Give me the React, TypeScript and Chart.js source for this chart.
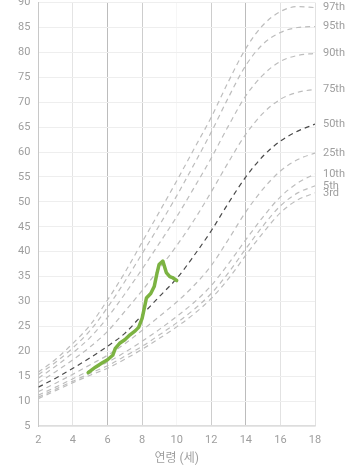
import React, { useEffect, useRef } from "react";
import { Chart, registerables } from "chart.js";

Chart.register(...registerables);

// ---- data ----
const AGES = [2, 3, 4, 5, 6, 7, 8, 9, 10, 11, 12, 13, 14, 15, 16, 17, 18];
const P3 = [10.5, 12.1, 13.7, 15.2, 16.6, 18.4, 20.4, 22.6, 24.9, 27.5, 30.6, 34.6, 39.3, 43.8, 47.8, 50.4, 51.8];
const P5 = [10.8, 12.4, 14.0, 15.6, 17.1, 19.0, 21.0, 23.3, 25.7, 28.4, 31.6, 35.8, 40.6, 45.2, 49.2, 51.8, 53.2];
const P10 = [11.2, 12.8, 14.5, 16.2, 17.8, 19.8, 22.0, 24.4, 27.0, 29.8, 33.2, 37.6, 42.4, 47.0, 51.0, 53.8, 55.6];
const P25 = [11.9, 13.6, 15.4, 17.3, 19.2, 21.5, 24.2, 27.0, 29.9, 33.2, 37.2, 42.5, 48.0, 52.6, 56.2, 58.5, 59.8];
const P50 = [12.8, 14.6, 16.6, 18.7, 21.0, 23.6, 27.3, 31.0, 34.6, 39.2, 44.2, 49.8, 55.0, 59.2, 62.2, 64.2, 65.6];
const P75 = [13.7, 15.9, 18.3, 20.9, 24.0, 28.0, 32.2, 36.6, 41.2, 46.3, 52.0, 58.0, 63.6, 67.8, 70.6, 72.0, 72.6];
const P90 = [14.6, 17.0, 19.7, 22.8, 26.8, 31.5, 36.5, 41.7, 47.0, 52.8, 58.8, 65.3, 71.3, 75.5, 78.2, 79.4, 79.8];
const P95 = [15.3, 17.8, 20.7, 24.2, 28.8, 34.0, 39.6, 45.3, 51.2, 57.5, 64.0, 71.0, 77.4, 81.7, 84.0, 85.0, 85.2];
const P97 = [15.8, 18.4, 21.6, 25.3, 30.3, 35.8, 41.9, 48.0, 54.2, 60.6, 67.0, 74.2, 80.8, 85.5, 88.2, 89.2, 89.0];
const PCT_NAMES = ["3rd", "5th", "10th", "25th", "50th", "75th", "90th", "95th", "97th"];

const CHILD_AGES = [4.88, 5.3, 5.7, 6.0, 6.3, 6.45, 6.7, 7.0, 7.3, 7.6, 7.8, 8.0, 8.15, 8.25, 8.5, 8.7, 8.85, 8.98, 9.2, 9.4, 9.6, 9.75, 10.0];
const CHILD_WEIGHTS = [15.7, 16.8, 17.7, 18.3, 19.2, 20.6, 21.6, 22.3, 23.3, 24.1, 24.8, 26.6, 29.0, 30.7, 31.6, 33.0, 35.5, 37.4, 38.1, 35.8, 35.0, 34.8, 34.2];

const X_MIN = 2;
const X_MAX = 18;
const X_STEP = 2;
const Y_MIN = 5;
const Y_MAX = 90;
const Y_STEP = 5;
const X_TITLE = "연령 (세)";

const FONT = "Roboto, 'Noto Sans CJK KR', sans-serif";

const xGridColor = (v: number) => {
  switch (v) {
    case 2: return "#c8c8c8";
    case 4: return "#e4e4e4";
    case 6: return "#bcbcbc";
    case 8: return "#cdcdcd";
    case 10: return "#f6f6f6";
    case 12: return "#cdcdcd";
    case 14: return "#bcbcbc";
    default: return "#e2e2e2";
  }
};

const pctLabelPlugin = {
  id: "pctLabels",
  afterDatasetsDraw(chart: any) {
    const { ctx, chartArea } = chart;
    ctx.save();
    ctx.font = `11px ${FONT}`;
    ctx.fillStyle = "#9e9e9e";
    ctx.textAlign = "left";
    ctx.textBaseline = "middle";
    chart.data.datasets.forEach((ds: any, i: number) => {
      if (!ds.pctLabel) return;
      const meta = chart.getDatasetMeta(i);
      const pt = meta.data[meta.data.length - 1];
      if (pt) ctx.fillText(ds.pctLabel, chartArea.right + 8, pt.y);
    });
    ctx.restore();
  },
};

export default function App() {
  const ref = useRef<HTMLCanvasElement | null>(null);

  useEffect(() => {
    if (!ref.current) return;
    const series = [P3, P5, P10, P25, P50, P75, P90, P95, P97];
    const pctDatasets = series.map((vals, i) => ({
      label: PCT_NAMES[i],
      pctLabel: PCT_NAMES[i],
      data: AGES.map((a, j) => ({ x: a, y: vals[j] })),
      borderColor: PCT_NAMES[i] === "50th" ? "#4a4a4a" : "#bdbdbd",
      borderWidth: 1.2,
      borderDash: [5, 4],
      pointRadius: 0,
      fill: false,
      cubicInterpolationMode: "monotone" as const,
      order: 2,
    }));
    const child = {
      label: "child",
      data: CHILD_AGES.map((a, j) => ({ x: a, y: CHILD_WEIGHTS[j] })),
      borderColor: "#7cb342",
      borderWidth: 3.5,
      pointRadius: 0,
      fill: false,
      tension: 0,
      borderCapStyle: "round" as const,
      borderJoinStyle: "round" as const,
      order: 0,
    };

    const chart = new Chart(ref.current, {
      type: "line",
      data: { datasets: [child, ...pctDatasets] as any },
      options: {
        animation: false,
        responsive: true,
        maintainAspectRatio: false,
        layout: { padding: { left: 10, right: 35, top: 0, bottom: 0 } },
        plugins: { legend: { display: false }, tooltip: { enabled: false } },
        scales: {
          x: {
            type: "linear",
            min: X_MIN,
            max: X_MAX,
            ticks: { stepSize: X_STEP, color: "#9e9e9e", padding: 7.5, font: { size: 11, family: FONT } },
            grid: {
              drawTicks: false,
              color: (c: any) => xGridColor(c.tick ? c.tick.value : 0),
              lineWidth: 1,
            },
            border: { color: "#dddddd", width: 1.5 },
            title: {
              display: true,
              text: X_TITLE,
              color: "#9e9e9e",
              font: { size: 12, family: FONT },
              padding: { top: 0, bottom: 0 },
            },
            afterFit: (scale: any) => {
              scale.height = 40;
            },
          },
          y: {
            type: "linear",
            min: Y_MIN,
            max: Y_MAX,
            ticks: { stepSize: Y_STEP, color: "#9e9e9e", padding: 8, font: { size: 11, family: FONT } },
            grid: { drawTicks: false, color: "#eeeeee", lineWidth: 1 },
            border: { color: "#c8c8c8", width: 1 },
          },
        },
      },
      plugins: [pctLabelPlugin],
    });
    return () => chart.destroy();
  }, []);

  return (
    <div style={{ position: "fixed", left: 0, top: -12, width: 350, height: 478 }}>
      <canvas ref={ref} />
    </div>
  );
}
